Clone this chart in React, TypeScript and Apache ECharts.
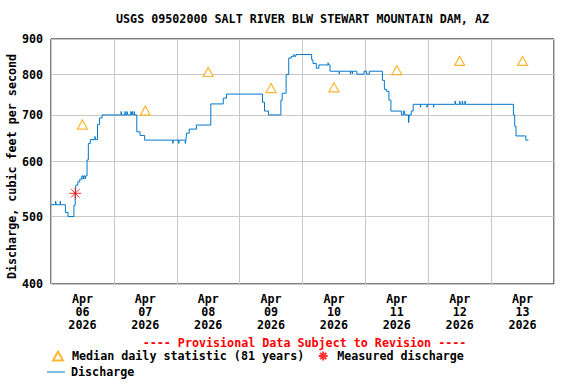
import { useEffect, useRef } from "react";
import * as echarts from "echarts";

const titleText = "USGS 09502000 SALT RIVER BLW STEWART MOUNTAIN DAM, AZ";
const yAxisName = "Discharge, cubic feet per second";
const provisionalText = "---- Provisional Data Subject to Revision ----";

const dayLabels = [
  "Apr\n06\n2026",
  "Apr\n07\n2026",
  "Apr\n08\n2026",
  "Apr\n09\n2026",
  "Apr\n10\n2026",
  "Apr\n11\n2026",
  "Apr\n12\n2026",
  "Apr\n13\n2026",
];
// hours since 2026-04-06 00:00
const labelHours = [12, 36, 60, 84, 108, 132, 156, 180];
const yTicks = [400, 500, 600, 700, 800, 900];

const medianName = "Median daily statistic (81 years)";
const medianHours = [12, 36, 60, 84, 108, 132, 156, 180];
const medianCfs = [678, 710, 807, 765, 767, 812, 837, 837];

const measuredName = "Measured discharge";
const measuredHours = [9.25];
const measuredCfs = [540];

const dischargeName = "Discharge";
const dischargeHours = [
  0, 1.75, 2.0, 3.5, 3.75, 5.5, 6.5, 8.75, 9.25, 9.5, 10.25, 11.0, 11.75, 12.25, 12.5, 13.0, 13.25, 13.75,
  14.25, 15.0, 16.75, 17.0, 17.75, 18.5, 19.5, 26.75, 27.0, 28.25, 28.5, 29.0, 29.25, 30.5, 30.75, 31.0,
  31.25, 31.75, 32.0, 32.75, 34.0, 35.75, 46.5, 46.75, 48.75, 49.0, 51.25, 51.5, 51.75, 52.75, 55.5, 61.0,
  65.75, 67.0, 80.75, 81.5, 83.0, 87.75, 88.25, 89.75, 90.75, 91.75, 92.75, 93.0, 93.5, 95.0, 99.5, 100.0,
  101.25, 102.25, 105.75, 106.0, 106.5, 110.0, 110.25, 114.25, 114.5, 115.0, 115.25, 116.75, 119.5, 120.5,
  121.5, 126.5, 127.25, 128.0, 129.0, 129.75, 133.75, 134.5, 135.0, 136.5, 136.75, 137.5, 138.25, 141.0,
  141.25, 143.5, 143.75, 146.0, 146.25, 154.25, 154.5, 156.0, 156.25, 157.0, 157.25, 158.0, 158.25, 176.5,
  177.0, 177.5, 181.25, 182.25,
];
const dischargeCfs = [
  520, 526, 520, 526, 520, 507, 500, 519, 540, 555, 561, 566, 572, 566, 572, 566, 572, 603,
  637, 645, 652, 645, 678, 693, 700, 708, 700, 708, 700, 708, 700, 708, 700, 708,
  700, 708, 700, 662, 654, 644, 637, 644, 637, 644, 637, 644, 659, 668, 677, 726,
  740, 750, 730, 709, 700, 735, 752, 800, 845, 850, 855, 850, 855, 855, 840, 830,
  817, 826, 832, 826, 809, 802, 809, 802, 809, 802, 809, 801, 809, 801,
  809, 785, 762, 757, 735, 709, 700, 709, 700, 682, 700, 709, 725, 718,
  725, 718, 725, 718, 725, 733, 725, 733, 725, 733, 725, 733, 725, 700,
  674, 653, 644, 644,
];

const FONT = "'DejaVu Sans Mono', monospace";
const FS = 11.7;

export default function App() {
  const ref = useRef<HTMLDivElement>(null);
  useEffect(() => {
    if (!ref.current) return;
    const chart = echarts.init(ref.current, null, { renderer: "svg" });
    const asterisk = "path://M0,6L12,6M6,0L6,12M1.8,1.8L10.2,10.2M10.2,1.8L1.8,10.2";
    const textStyle = { fontFamily: FONT, fontWeight: "bold", fontSize: FS, color: "#000" };
    chart.setOption({
      animation: false,
      backgroundColor: "#fff",
      graphic: [
        {
          type: "text",
          x: 302.5,
          y: 19,
          style: {
            text: titleText,
            fill: "#000",
            font: `bold ${FS}px 'DejaVu Sans Mono', monospace`,
            align: "center",
            verticalAlign: "middle",
            textAlign: "center",
            textVerticalAlign: "middle",
          },
        },
        {
          type: "text",
          x: 304.5,
          y: 343,
          style: {
            text: provisionalText,
            fill: "#ff0000",
            font: `bold ${FS}px 'DejaVu Sans Mono', monospace`,
            align: "center",
            verticalAlign: "middle",
            textAlign: "center",
            textVerticalAlign: "middle",
          },
        },
      ],
      grid: {
        left: 51,
        top: 39,
        width: 503,
        height: 245,
        show: true,
        borderColor: "#000",
        borderWidth: 1,
        backgroundColor: "transparent",
        containLabel: false,
        outerBoundsMode: "none",
      },
      xAxis: {
        type: "value",
        min: 0,
        max: 192,
        interval: 24,
        axisLine: { show: false },
        axisTick: { show: false },
        splitLine: { show: true, lineStyle: { color: "#c8c8c8", width: 1 } },
        axisLabel: {
          customValues: labelHours,
          formatter: (v: number) => dayLabels[Math.round((v - 12) / 24)] ?? "",
          ...textStyle,
          lineHeight: 13,
          margin: 8,
        },
      },
      yAxis: {
        type: "log",
        min: 400,
        max: 900,
        name: yAxisName,
        nameLocation: "middle",
        nameGap: 33,
        nameMoveOverlap: false,
        nameTextStyle: { ...textStyle, padding: [0, 10, 0, 0] },
        axisLine: { show: false },
        axisTick: { show: false, customValues: yTicks },
        splitLine: { show: true, lineStyle: { color: "#c8c8c8", width: 1 } },
        axisLabel: {
          customValues: yTicks,
          ...textStyle,
          margin: 8,
        },
      },
      legend: [
        {
          left: 52,
          top: 349,
          padding: 0,
          itemWidth: 10,
          itemHeight: 9,
          itemGap: 12,
          selectedMode: false,
          data: [medianName, measuredName],
          textStyle: { ...textStyle, padding: [0, 0, 0, 4] },
        },
        {
          left: 47,
          top: 366,
          padding: 0,
          itemWidth: 18,
          itemHeight: 1,
          selectedMode: false,
          data: [{ name: dischargeName, icon: "rect" }],
          textStyle: { ...textStyle, padding: [0, 0, 0, 1] },
        },
      ],
      series: [
        {
          name: dischargeName,
          type: "line",
          step: "end",
          symbol: "none",
          lineStyle: { color: "#0077cc", width: 1 },
          itemStyle: { color: "#0077cc" },
          data: dischargeHours.map((h, i) => [h, dischargeCfs[i]]),
          z: 2,
        },
        {
          name: medianName,
          type: "scatter",
          symbol: "triangle",
          symbolSize: [10, 9],
          itemStyle: { color: "#fff", borderColor: "#ffa500", borderWidth: 1.2 },
          data: medianHours.map((h, i) => [h, medianCfs[i]]),
          z: 3,
        },
        {
          name: measuredName,
          type: "scatter",
          symbol: asterisk,
          symbolSize: 12,
          itemStyle: { color: "none", borderColor: "#ff0000", borderWidth: 1 },
          data: measuredHours.map((h, i) => [h, measuredCfs[i]]),
          z: 4,
        },
      ],
    });
    return () => chart.dispose();
  }, []);
  return (
    <div
      ref={ref}
      style={{ position: "fixed", left: 0, top: 0, width: 576, height: 384, background: "#fff" }}
    />
  );
}
